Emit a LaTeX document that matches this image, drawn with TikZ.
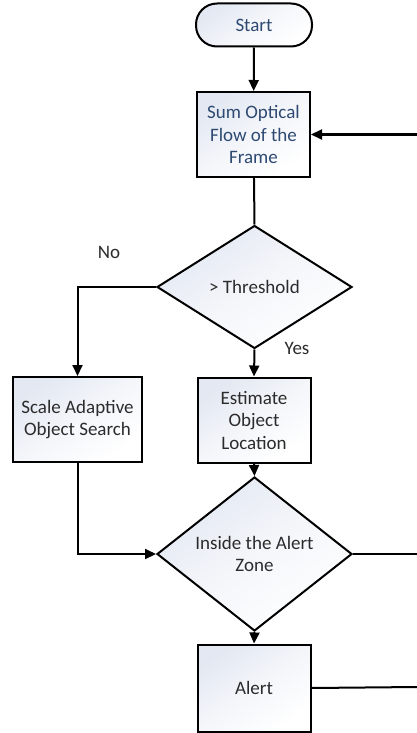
\documentclass[tikz,border=0pt]{standalone}
\usepackage{fontspec}
\setmainfont{Carlito}
\usetikzlibrary{shapes.geometric,arrows.meta}
\definecolor{boxtop}{HTML}{E3E8F2}
\definecolor{titleblue}{HTML}{2E4A72}
\definecolor{txtgray}{HTML}{2B2B2B}
\tikzset{
  base/.style={draw=black, line width=2pt, top color=boxtop, bottom color=white, middle color=white!60!boxtop, shading angle=35, font=\fontsize{19}{22.5}\selectfont, text=txtgray, align=center, inner sep=2pt},
  proc/.style={base, rectangle, minimum width=113pt, minimum height=85pt},
  term/.style={base, rectangle, rounded corners=21pt, minimum width=116pt, minimum height=43pt},
  decide/.style={base, diamond, minimum width=195pt, minimum height=123pt, inner sep=0pt},
  conn/.style={line width=2pt, draw=black},
  arr/.style={conn, -{Triangle[length=11pt,width=10pt]}},
  lbl/.style={font=\fontsize{19}{22.5}\selectfont, text=txtgray}
}
\begin{document}
\begin{tikzpicture}[x=1pt,y=-1pt]
\useasboundingbox (0,0) rectangle (417,733);
\node[term, text=titleblue] (start) at (254,25) {Start};
\node[proc, text=titleblue] (sum) at (253.5,134.5) {Sum Optical\\Flow of the\\Frame};
\node[decide] (thr) at (254.5,287) {> Threshold};
\node[proc, minimum width=129pt] (scale) at (77.5,419.5) {Scale Adaptive\\Object Search};
\node[proc] (est) at (254,420) {Estimate\\Object\\Location};
\node[decide] (zone) at (254.5,554) {Inside the Alert\\Zone};
\node[proc, minimum height=87pt] (alert) at (254,688) {Alert};
\coordinate (fb) at (417,134.5);
\coordinate (zr) at (417,554);
\coordinate (ar) at (417,687);
\node[lbl] (no) at (109,252) {No};
\node[lbl] (yes) at (297,348) {Yes};
\draw[arr] (start) -- (sum);
\draw[arr] (fb) -- (sum.east);
\draw[conn] (sum) -- (thr.north);
\draw[arr] (thr.west) -| (scale.north);
\draw[arr] (thr.south) -- (est.north);
\draw[arr] (est.south) -- (zone.north);
\draw[arr] (scale.south) |- (zone.west);
\draw[conn] (zone.east) -- (zr);
\draw[arr] (zone.south) -- (alert.north);
\draw[conn] (alert.east) -- (ar);
\end{tikzpicture}
\end{document}
